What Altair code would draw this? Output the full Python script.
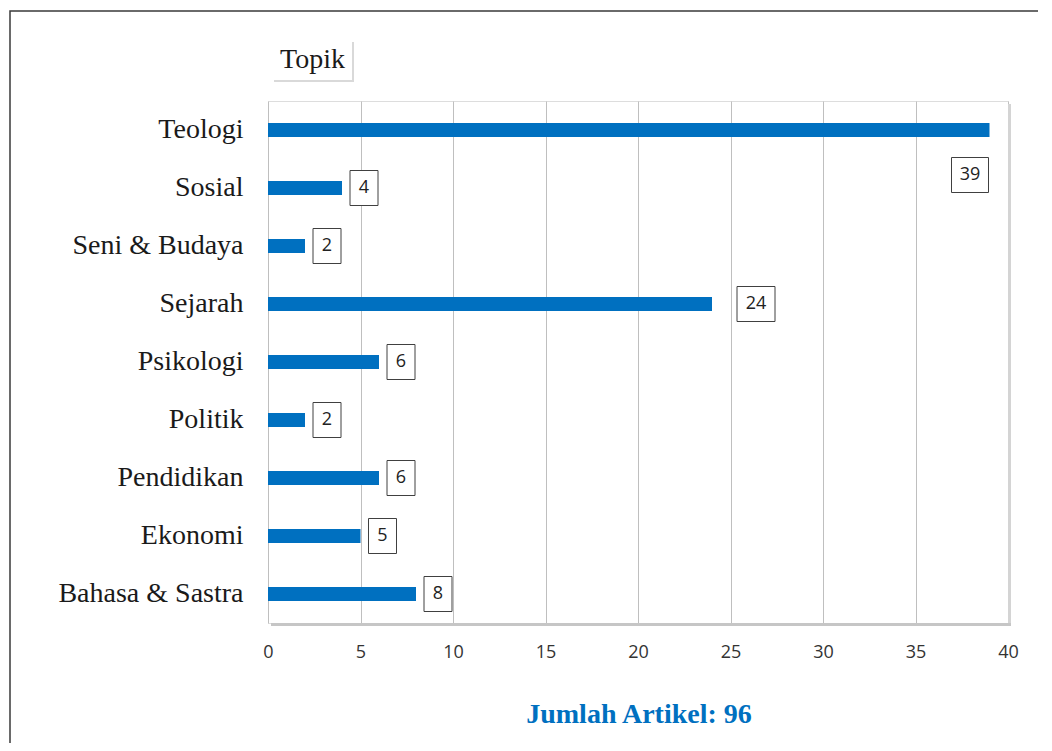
import altair as alt
import pandas as pd

categories = ["Teologi", "Sosial", "Seni & Budaya", "Sejarah", "Psikologi",
              "Politik", "Pendidikan", "Ekonomi", "Bahasa & Sastra"]
counts = [39, 4, 2, 24, 6, 2, 6, 5, 8]
x_ticks = [0, 5, 10, 15, 20, 25, 30, 35, 40]
axis_title = "Topik"
chart_title = "Jumlah Artikel: 96"

df = pd.DataFrame({"topic": categories, "count": counts})
one = pd.DataFrame({"t": [0]})

BLUE = "#0070C0"
W, H = 740, 522

x_enc = alt.X("count:Q", scale=alt.Scale(domain=[0, 40], nice=False),
              axis=alt.Axis(values=x_ticks, title=None, grid=True, gridColor="#bfbfbf",
                            domain=False, ticks=False, tickSize=0, labelPadding=20,
                            labelFlush=False,
                            labelFont="Open Sans", labelFontSize=18, labelColor="#333333"))
y_enc = alt.Y("topic:N", sort=categories,
              scale=alt.Scale(paddingInner=0, paddingOuter=0),
              axis=alt.Axis(title=None, domain=False, ticks=False, tickSize=0, labelPadding=25,
                            labelLimit=400,
                            labelFont="Liberation Serif", labelFontSize=28, labelColor="#1a1a1a"))

base = alt.Chart(df)

bars = base.mark_bar(color=BLUE, height=14).encode(x=x_enc, y=y_enc)

single = base.transform_filter("datum.count < 10")
double = base.transform_filter("datum.count >= 10 && datum.count < 30")
top = base.transform_filter("datum.count >= 30")

ysort = alt.Y("topic:N", sort=categories)
box_style = dict(fill="white", stroke="#404040", strokeWidth=1, height=35)
box1 = single.mark_bar(xOffset=8, x2Offset=36, **box_style).encode(x="count:Q", x2="count:Q", y=ysort)
box2 = double.mark_bar(xOffset=25, x2Offset=63, **box_style).encode(x="count:Q", x2="count:Q", y=ysort)
box3 = top.mark_bar(xOffset=-38, x2Offset=-1, yOffset=45, **box_style).encode(x="count:Q", x2="count:Q", y=ysort)

txt_style = dict(font="Open Sans", fontSize=18, color="#222222", baseline="middle", align="center")
t1 = single.mark_text(dx=22, **txt_style).encode(x="count:Q", y=ysort, text="count:Q")
t2 = double.mark_text(dx=44, **txt_style).encode(x="count:Q", y=ysort, text="count:Q")
t3 = top.mark_text(dx=-19.5, dy=45, **txt_style).encode(x="count:Q", y=ysort, text="count:Q")

oc = alt.Chart(one)
shadow_r = oc.mark_rule(color="#d4d4d4", strokeWidth=3).encode(
    x=alt.value(W + 1.5), y=alt.value(3), y2=alt.value(H + 3))
shadow_b = oc.mark_rule(color="#c6c6c6", strokeWidth=3).encode(
    x=alt.value(3), x2=alt.value(W + 3), y=alt.value(H + 1.5))

frame = oc.mark_rect(fill=None, stroke="#3a3a3a", strokeWidth=1.5).encode(
    x=alt.value(-258), x2=alt.value(820), y=alt.value(-90), y2=alt.value(700))

topik_sh = oc.mark_rect(fill="#d9d9d9").encode(
    x=alt.value(6), x2=alt.value(86), y=alt.value(-59), y2=alt.value(-19))
topik_box = oc.mark_rect(fill="white").encode(
    x=alt.value(4), x2=alt.value(84), y=alt.value(-61), y2=alt.value(-21))
topik_txt = oc.mark_text(font="Liberation Serif", fontSize=28, color="#1a1a1a",
                         align="left", baseline="alphabetic").encode(
    x=alt.value(12), y=alt.value(-33), text=alt.value(axis_title))

title_txt = oc.mark_text(font="Liberation Serif", fontSize=28, fontWeight="bold", color=BLUE,
                         align="center", baseline="alphabetic").encode(
    x=alt.value(W / 2 + 1), y=alt.value(622), text=alt.value(chart_title))

chart = alt.layer(
    frame, shadow_r, shadow_b, bars, box1, box2, box3, t1, t2, t3,
    topik_sh, topik_box, topik_txt, title_txt
).properties(
    width=W, height=H,
    autosize=alt.AutoSizeParams(type="none"),
    padding={"left": 260, "top": 93, "right": 30, "bottom": 120},
).configure_view(stroke="#d9d9d9").configure(background="white")

chart.save("out.html", embed_options={"renderer": "svg", "actions": False})
